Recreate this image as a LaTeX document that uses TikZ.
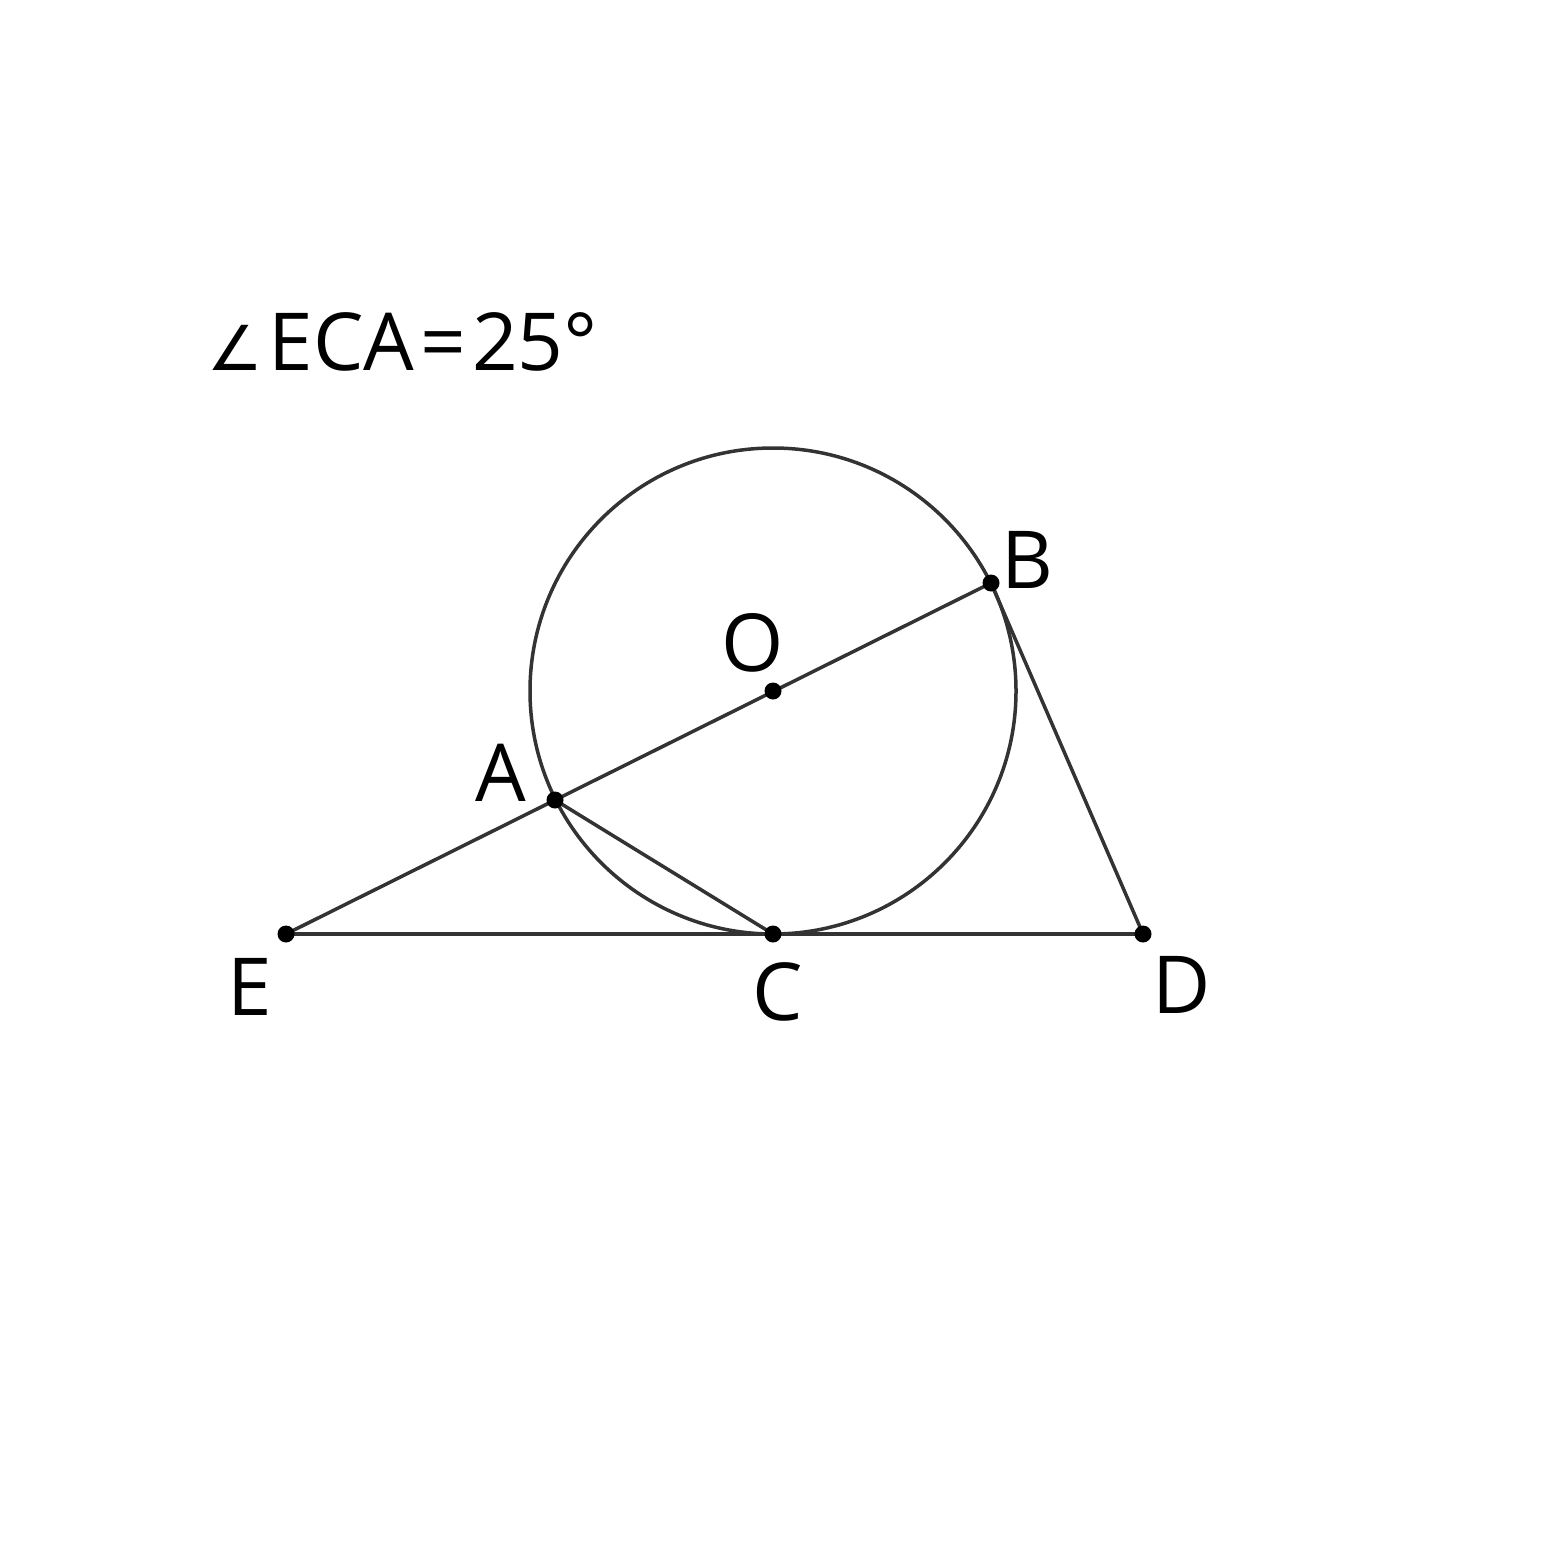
\documentclass[tikz,border=0pt]{standalone}
\usepackage{fontspec}
\setmainfont{Open Sans}
\newfontfamily\symfont{DejaVu Sans}
\begin{document}
\begin{tikzpicture}[x=1pt,y=-1pt,
  seg/.style={draw=black!80, line width=3.5pt},
  dotpt/.style={circle, fill=black, inner sep=0pt, minimum size=17pt},
  lab/.style={font=\fontsize{80}{90}\selectfont, text=black}]
\useasboundingbox (0,0) rectangle (1546,1546);
\coordinate (O) at (773,691);
\coordinate (A) at (555,800);
\coordinate (B) at (991,583);
\coordinate (C) at (773,934);
\coordinate (D) at (1143,934);
\coordinate (E) at (286,934);
\draw[seg] (O) circle[radius=243];
\draw[seg] (E) -- (B);
\draw[seg] (A) -- (C);
\draw[seg] (E) -- (D);
\draw[seg] (B) -- (D);
\foreach \p in {O,A,B,C,D,E} \node[dotpt] (d\p) at (\p) {};
\node[lab] (lB) at (1027,560) {B};
\node[lab] (lO) at (753,643) {O};
\node[lab] (lA) at (501,773) {A};
\node[lab] (lE) at (250,987) {E};
\node[lab] (lC) at (778,992) {C};
\node[lab] (lD) at (1182,985) {D};
\node[lab, anchor=base west, inner sep=0pt] (title) at (207,370) {{\symfont\fontsize{62}{70}\selectfont ∠}\kern6pt ECA\kern6pt=\kern6pt 25°};
\end{tikzpicture}
\end{document}
